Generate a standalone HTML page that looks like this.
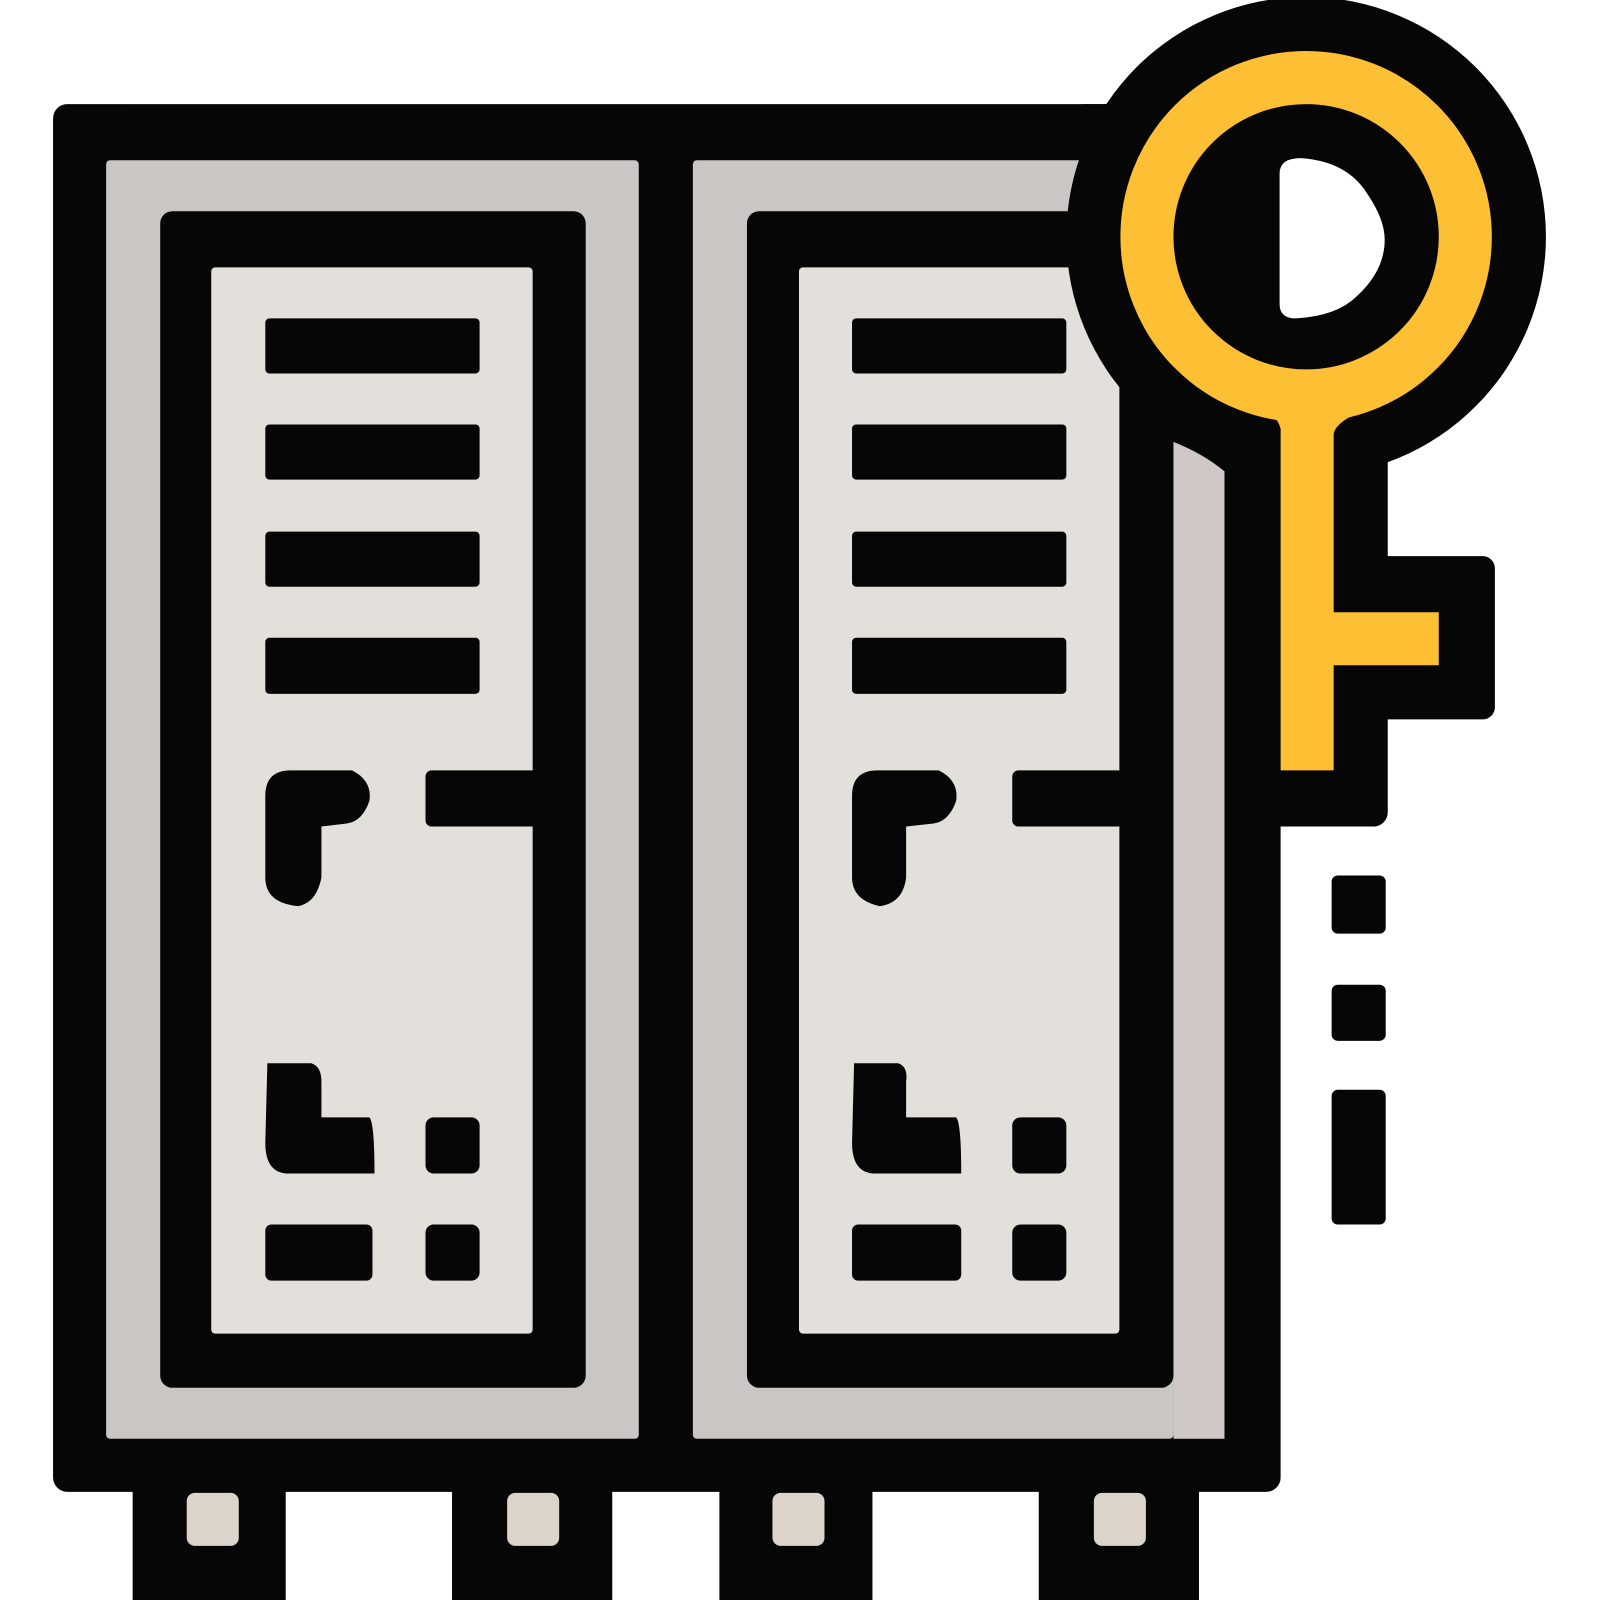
<!DOCTYPE html>
<html><head><style>html,body{margin:0;padding:0;background:#fff}svg{display:block}</style></head>
<body>
<svg width="1600" height="1600" viewBox="0 0 1568 1568" xmlns="http://www.w3.org/2000/svg">
<g fill="#060606">
  <rect x="52" y="102" width="1203" height="1360" rx="14"/>
  <rect x="130" y="1440" width="150" height="128"/>
  <rect x="443" y="1440" width="157" height="128"/>
  <rect x="705" y="1440" width="150" height="128"/>
  <rect x="1018" y="1440" width="157" height="128"/>
  <rect x="1150" y="300" width="210" height="510" rx="14"/>
  <rect x="1300" y="545" width="165" height="160" rx="12"/>
</g>
<!-- gray frames -->
<rect x="104" y="157" width="522" height="1253" rx="4" fill="#c9c6c3"/>
<rect x="679" y="157" width="471" height="1253" rx="4" fill="#c9c6c3"/>
<path d="M1150 433 Q1180 445 1200 462 V1410 H1150 Z" fill="#d0c8c6"/>
<!-- inner black frames -->
<rect x="157" y="207" width="417" height="1153" rx="12" fill="#060606"/>
<rect x="732" y="207" width="418" height="1153" rx="12" fill="#060606"/>
<!-- light panels -->
<rect x="207" y="262" width="315" height="1045" rx="4" fill="#e3e0dc"/>
<rect x="783" y="262" width="314" height="1045" rx="4" fill="#e3e0dc"/>
<!-- key black surround -->
<circle cx="1280" cy="232" r="235" fill="#060606"/>
<path d="M1060 102 H1100 V140 Z" fill="#060606"/>
<g fill="#060606">
  <!-- vents -->
  <rect x="260" y="312" width="210" height="54" rx="4"/>
  <rect x="260" y="416" width="210" height="54" rx="4"/>
  <rect x="260" y="521" width="210" height="54" rx="4"/>
  <rect x="260" y="625" width="210" height="55" rx="4"/>
  <rect x="835" y="312" width="210" height="54" rx="4"/>
  <rect x="835" y="416" width="210" height="54" rx="4"/>
  <rect x="835" y="521" width="210" height="54" rx="4"/>
  <rect x="835" y="625" width="210" height="55" rx="4"/>
  <!-- handles -->
  <rect x="417" y="755" width="110" height="55" rx="6"/>
  <path d="M260 780 Q260 755 285 755 H345 Q365 765 362 785 Q355 805 340 807 L315 810 V860 Q310 885 292 888 Q260 885 260 860 Z"/>
  <rect x="992" y="755" width="110" height="55" rx="6"/>
  <path d="M835 780 Q835 755 860 755 H920 Q940 765 937 785 Q930 805 915 807 L888 810 V860 Q885 885 862 888 Q835 882 835 860 Z"/>
  <!-- bottom marks -->
  <path d="M262 1042 H305 Q315 1045 315 1060 V1095 H362 Q367 1100 367 1150 H280 Q260 1148 260 1120 Z"/>
  <rect x="417" y="1095" width="53" height="55" rx="8"/>
  <rect x="260" y="1200" width="105" height="55" rx="6"/>
  <rect x="417" y="1200" width="53" height="55" rx="8"/>
  <path d="M837 1042 H880 Q890 1045 888 1060 V1095 H937 Q942 1100 942 1150 H855 Q835 1148 835 1120 Z"/>
  <rect x="992" y="1095" width="53" height="55" rx="8"/>
  <rect x="835" y="1200" width="107" height="55" rx="6"/>
  <rect x="992" y="1200" width="53" height="55" rx="8"/>
  <!-- dots right -->
  <rect x="1305" y="858" width="53" height="57" rx="6"/>
  <rect x="1305" y="965" width="53" height="55" rx="6"/>
  <rect x="1305" y="1068" width="53" height="132" rx="6"/>
</g>
<!-- feet squares -->
<g fill="#dcd3cb">
  <rect x="183" y="1463" width="51" height="52" rx="8"/>
  <rect x="497" y="1463" width="51" height="52" rx="8"/>
  <rect x="757" y="1463" width="51" height="52" rx="8"/>
  <rect x="1072" y="1463" width="51" height="52" rx="8"/>
</g>
<!-- key -->
<circle cx="1280" cy="232" r="156" fill="none" stroke="#fdbf33" stroke-width="52"/>
<path d="M1255 420 Q1250 400 1215 395 L1300 395 L1355 395 Q1310 410 1307 425 V600 H1410 V652 H1307 V755 H1255 Z" fill="#fdbf33"/>
<path d="M1254 170 Q1254 155 1275 155 Q1320 158 1340 190 Q1357 215 1357 235 Q1357 265 1330 290 Q1310 310 1270 312 Q1254 312 1254 298 Z" fill="#fff"/>
</svg>
</body></html>
